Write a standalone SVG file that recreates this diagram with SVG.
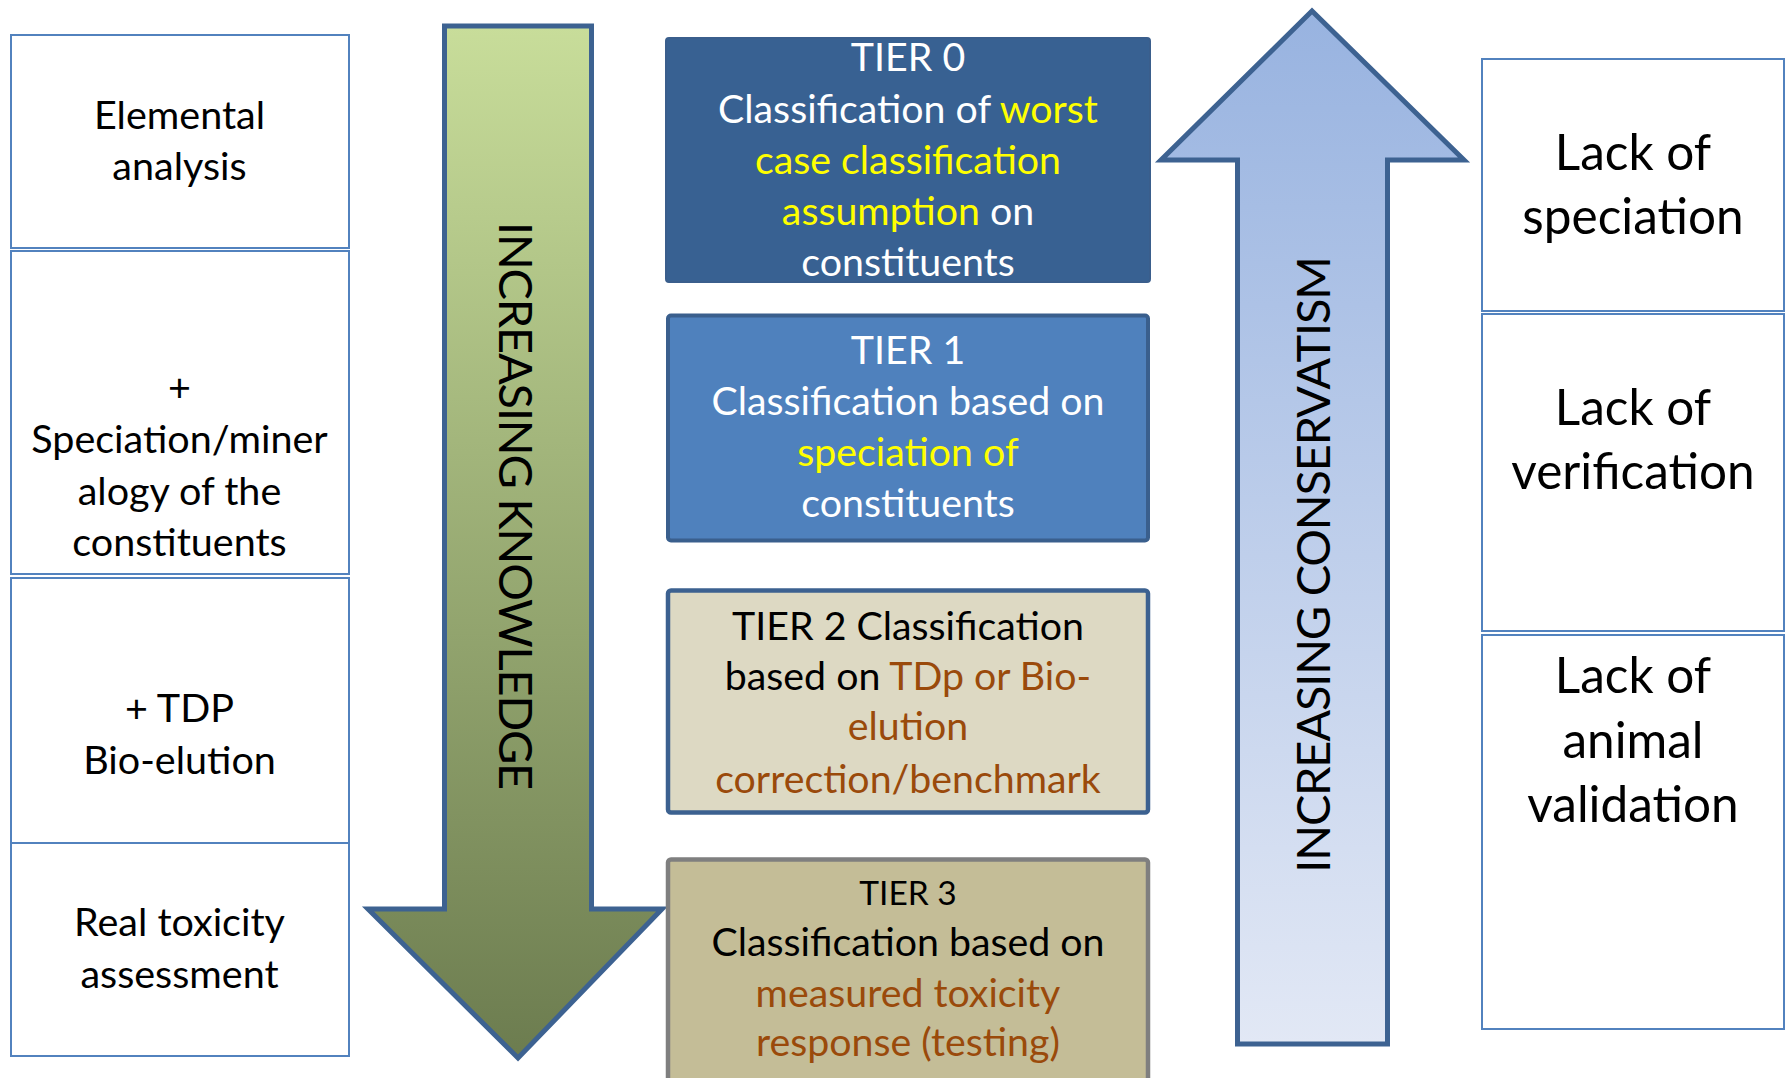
<svg xmlns="http://www.w3.org/2000/svg" width="1787" height="1078" viewBox="0 0 1787 1078">
<style>
text{font-family:Lato,"Open Sans","Liberation Sans",sans-serif;text-anchor:middle}
.side{fill:#fff;stroke:#5282BE;stroke-width:2}
.lt{font-size:39.5px;fill:#000}
.rt{font-size:49.5px;fill:#000}
.tt{font-size:39.3px}
.w{fill:#fff}
.y{fill:#FFFF00}
.k{fill:#000}
.br{fill:#9A4A0B}
.lab{font-size:47px;letter-spacing:-1.2px;fill:#000}
.arrow{stroke:#3D6291;stroke-width:5;stroke-linejoin:miter}
</style>
<defs>
<linearGradient id="gGreen" x1="0" y1="0" x2="0" y2="1">
<stop offset="0" stop-color="#C8DD9A"/>
<stop offset="1" stop-color="#6C7C4F"/>
</linearGradient>
<linearGradient id="gBlue" x1="0" y1="0" x2="0" y2="1">
<stop offset="0" stop-color="#98B3E0"/>
<stop offset="1" stop-color="#E2E8F5"/>
</linearGradient>
</defs>
<rect width="1787" height="1078" fill="#fff"/>

<g id="connectors">
<path id="arrow-knowledge" class="arrow" fill="url(#gGreen)" d="M444.5,26 H591.5 V909 H662 L518,1058 L368,909 H444.5 Z"/>
<path id="arrow-conservatism" class="arrow" fill="url(#gBlue)" d="M1237.5,1044 V160 H1161 L1312,11 L1464,160 H1387.5 V1044 Z"/>
</g>

<g id="label-knowledge">
<text class="lab" transform="translate(499,505.5) rotate(90)" x="0" y="0">INCREASING KNOWLEDGE</text>
</g>
<g id="label-conservatism">
<text class="lab" transform="translate(1330,565) rotate(-90)" x="0" y="0">INCREASING CONSERVATISM</text>
</g>

<g id="left-elemental">
<rect class="side" x="11" y="35" width="338" height="213"/>
<text class="lt" x="179.5" y="128.5">Elemental</text>
<text class="lt" x="179.5" y="180">analysis</text>
</g>
<g id="left-speciation">
<rect class="side" x="11" y="251" width="338" height="323"/>
<text class="lt" x="179.5" y="401">+</text>
<text class="lt" x="179.5" y="453">Speciation/miner</text>
<text class="lt" x="179.5" y="505">alogy of the</text>
<text class="lt" x="179.5" y="556">constituents</text>
</g>
<g id="left-tdp">
<rect class="side" x="11" y="578" width="338" height="265"/>
<text class="lt" x="179.5" y="722">+ TDP</text>
<text class="lt" x="179.5" y="774">Bio-elution</text>
</g>
<g id="left-toxicity">
<rect class="side" x="11" y="843" width="338" height="213"/>
<text class="lt" x="179.5" y="936">Real toxicity</text>
<text class="lt" x="179.5" y="988">assessment</text>
</g>

<g id="tier0">
<rect x="666" y="38" width="484" height="244" rx="3" fill="#386192" stroke="#3A5E8C" stroke-width="2"/>
<text class="tt w" x="908" y="71">TIER 0</text>
<text class="tt w" x="908" y="122.5">Classification of <tspan class="y">worst</tspan></text>
<text class="tt y" x="908" y="174">case classification</text>
<text class="tt w" x="908" y="225"><tspan class="y">assumption</tspan> on</text>
<text class="tt w" x="908" y="276">constituents</text>
</g>
<g id="tier1">
<rect x="668" y="315.5" width="480" height="225" rx="3" fill="#4F81BD" stroke="#3A5F8D" stroke-width="4"/>
<text class="tt w" x="908" y="364">TIER 1</text>
<text class="tt w" x="908" y="415">Classification based on</text>
<text class="tt y" x="908" y="466">speciation of</text>
<text class="tt w" x="908" y="517">constituents</text>
</g>
<g id="tier2">
<rect x="668" y="590.5" width="480" height="222" rx="3" fill="#DDD9C3" stroke="#3C6190" stroke-width="4.5"/>
<text class="tt k" x="908" y="639.5">TIER 2 Classification</text>
<text class="tt k" x="908" y="690">based on <tspan class="br">TDp or Bio-</tspan></text>
<text class="tt br" x="908" y="740">elution</text>
<text class="tt br" x="908" y="793">correction/benchmark</text>
</g>
<g id="tier3">
<rect x="668" y="859.5" width="480" height="240" rx="3" fill="#C4BD97" stroke="#7F7F7F" stroke-width="4.5"/>
<text class="k" style="font-size:33.5px" x="908" y="905">TIER 3</text>
<text class="tt k" x="908" y="956">Classification based on</text>
<text class="tt br" x="908" y="1007">measured toxicity</text>
<text class="tt br" x="908" y="1056">response (testing)</text>
</g>

<g id="right-speciation">
<rect class="side" x="1482" y="59" width="302" height="252"/>
<text class="rt" x="1633" y="169.5">Lack of</text>
<text class="rt" x="1633" y="234">speciation</text>
</g>
<g id="right-verification">
<rect class="side" x="1482" y="314" width="302" height="317"/>
<text class="rt" x="1633" y="425">Lack of</text>
<text class="rt" x="1633" y="489">verification</text>
</g>
<g id="right-animal">
<rect class="side" x="1482" y="635" width="302" height="394"/>
<text class="rt" x="1633" y="693">Lack of</text>
<text class="rt" x="1633" y="758">animal</text>
<text class="rt" x="1633" y="822">validation</text>
</g>
</svg>
